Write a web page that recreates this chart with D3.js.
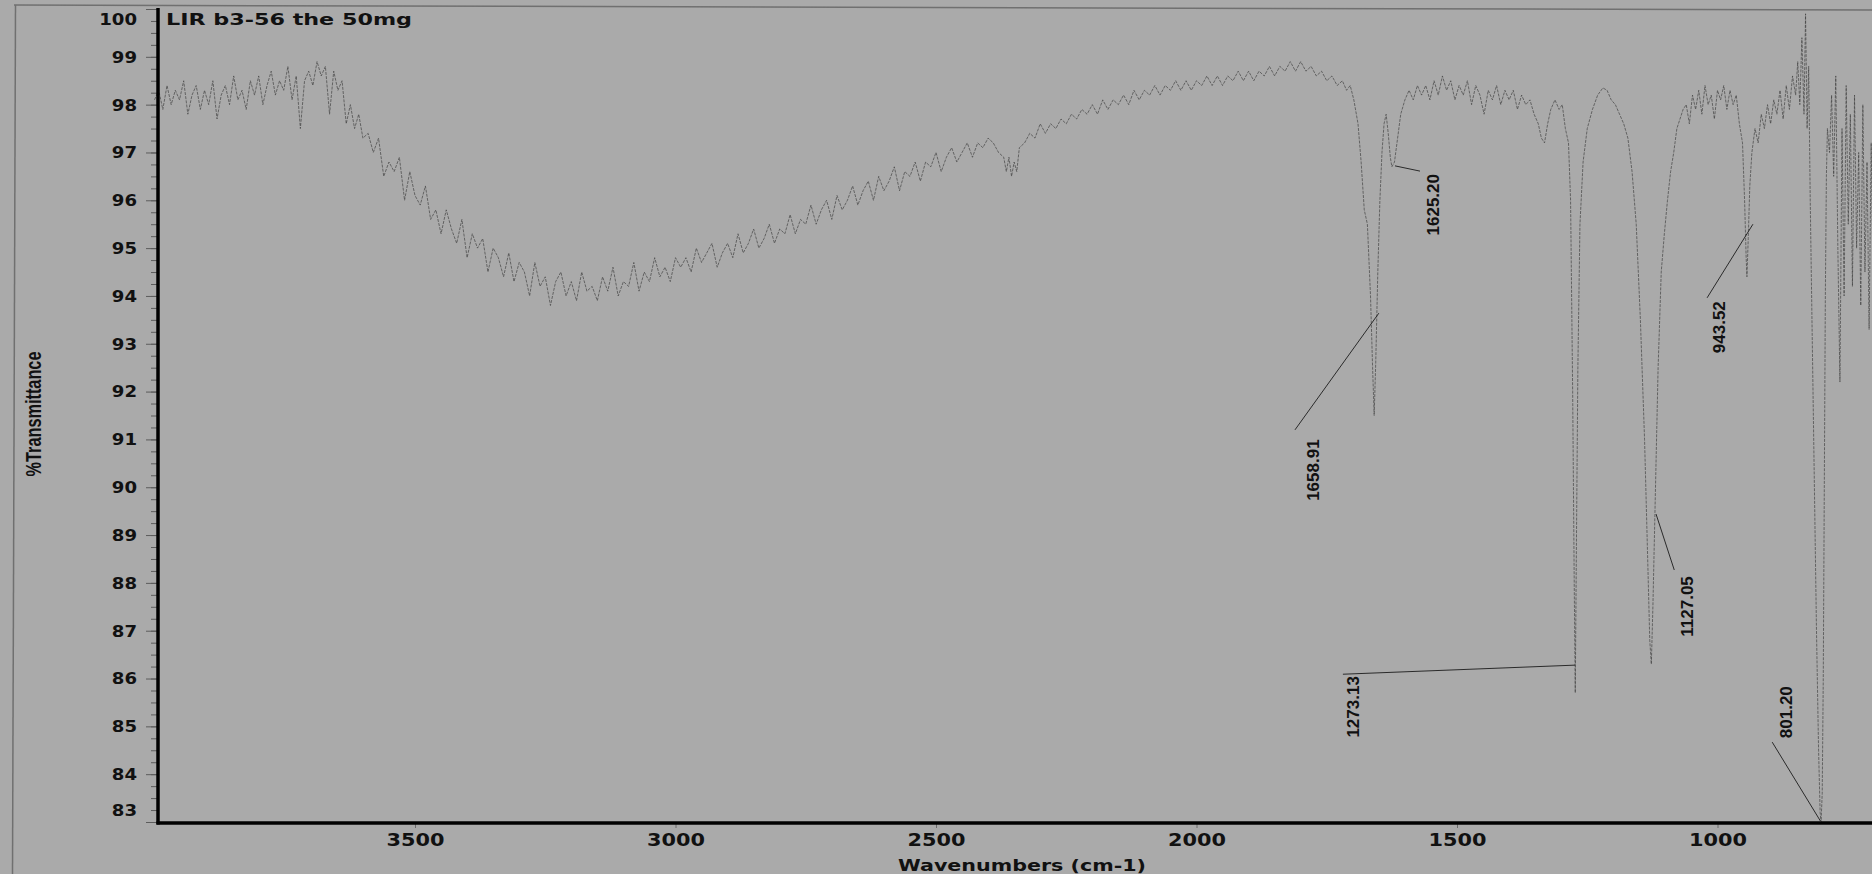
<!DOCTYPE html>
<html lang="en">
<head>
<meta charset="UTF-8">
<title>IR spectrum - LIR b3-56</title>
<style>
  body { margin: 0; background: #aaaaaa; overflow: hidden; }
  svg { display: block; }
</style>
<script src="https://d3js.org/d3.v7.min.js"></script>
</head>
<body>
<script>
// chart texts
const sampleName = "LIR b3-56 the 50mg";
const xTitle = "Wavenumbers (cm-1)";
const yTitle = "%Transmittance";

// tick labels
const xTicks = [3500, 3000, 2500, 2000, 1500, 1000];
const yTicks = [100, 99, 98, 97, 96, 95, 94, 93, 92, 91, 90, 89, 88, 87, 86, 85, 84, 83];

// spectrum: [wavenumber, %T]
const spectrum = [
  [4000,98.1],[3992,98.3],[3984,97.9],[3976,98.4],[3968,98.0],[3960,98.3],[3952,98.1],[3944,98.5],
  [3936,97.8],[3928,98.2],[3920,98.4],[3912,97.9],[3904,98.3],[3896,98.0],[3888,98.5],[3880,97.7],
  [3872,98.2],[3864,98.4],[3856,98.0],[3848,98.6],[3840,98.1],[3832,98.3],[3824,97.9],[3816,98.5],
  [3808,98.2],[3800,98.6],[3792,98.0],[3784,98.4],[3776,98.7],[3768,98.2],[3760,98.5],[3752,98.3],
  [3744,98.8],[3736,98.1],[3728,98.6],[3720,97.5],[3712,98.5],[3704,98.7],[3696,98.4],[3688,98.9],
  [3680,98.6],[3672,98.8],[3664,97.8],[3656,98.7],[3648,98.3],[3640,98.5],[3632,97.6],[3624,98.0],
  [3616,97.5],[3608,97.8],[3600,97.3],
  [3590,97.4],[3580,97.0],[3570,97.3],[3560,96.5],[3550,96.8],[3540,96.6],[3530,96.9],[3520,96.0],
  [3510,96.6],[3500,96.1],[3490,95.9],[3480,96.3],[3470,95.6],[3460,95.8],[3450,95.3],[3440,95.8],
  [3430,95.4],[3420,95.1],[3410,95.6],[3400,94.8],[3390,95.3],[3380,95.0],[3370,95.2],[3360,94.5],
  [3350,95.0],[3340,94.8],[3330,94.4],[3320,94.9],[3310,94.3],[3300,94.7],[3290,94.5],[3280,94.0],
  [3270,94.7],[3260,94.2],[3250,94.4],[3240,93.8],[3230,94.3],[3220,94.5],[3210,94.0],[3200,94.3],
  [3190,93.9],[3180,94.5],[3170,94.1],[3160,94.2],[3150,93.9],[3140,94.4],[3130,94.1],[3120,94.6],
  [3110,94.0],[3100,94.3],[3090,94.2],[3080,94.7],[3070,94.1],[3060,94.5],[3050,94.3],[3040,94.8],
  [3030,94.4],[3020,94.6],[3010,94.3],[3000,94.8],
  [2990,94.6],[2980,94.8],[2970,94.5],[2960,95.0],[2950,94.7],[2940,94.9],[2930,95.1],[2920,94.6],
  [2910,94.9],[2900,95.1],[2890,94.8],[2880,95.3],[2870,94.9],[2860,95.1],[2850,95.4],[2840,95.0],
  [2830,95.2],[2820,95.5],[2810,95.1],[2800,95.4],[2790,95.3],[2780,95.7],[2770,95.3],[2760,95.6],
  [2750,95.5],[2740,95.9],[2730,95.5],[2720,95.8],[2710,96.0],[2700,95.6],[2690,96.1],[2680,95.8],
  [2670,96.0],[2660,96.3],[2650,95.9],[2640,96.2],[2630,96.4],[2620,96.0],[2610,96.5],[2600,96.2],
  [2590,96.4],[2580,96.7],[2570,96.2],[2560,96.6],[2550,96.5],[2540,96.8],[2530,96.4],[2520,96.8],
  [2510,96.7],[2500,97.0],[2490,96.6],[2480,96.9],[2470,97.1],[2460,96.8],[2450,97.0],[2440,97.2],
  [2430,96.9],[2420,97.2],[2410,97.1],[2400,97.3],
  [2390,97.2],[2380,97.0],[2370,96.9],[2365,96.6],[2360,96.9],[2355,96.5],[2350,96.8],[2345,96.6],
  [2340,97.1],[2330,97.2],[2320,97.4],[2310,97.3],[2300,97.6],[2290,97.4],[2280,97.6],[2270,97.5],
  [2260,97.7],[2250,97.6],[2240,97.8],[2230,97.7],[2220,97.9],[2210,97.8],[2200,98.0],[2190,97.8],
  [2180,98.1],[2170,97.9],[2160,98.1],[2150,98.0],[2140,98.2],[2130,98.0],[2120,98.3],[2110,98.1],
  [2100,98.3],[2090,98.2],[2080,98.4],[2070,98.2],[2060,98.4],[2050,98.3],[2040,98.5],[2030,98.3],
  [2020,98.5],[2010,98.3],[2000,98.5],[1990,98.4],[1980,98.6],[1970,98.4],[1960,98.6],[1950,98.4],
  [1940,98.6],[1930,98.5],[1920,98.7],[1910,98.5],[1900,98.7],[1890,98.5],[1880,98.7],[1870,98.6],
  [1860,98.8],[1850,98.6],[1840,98.8],[1830,98.7],[1820,98.9],[1810,98.7],[1800,98.9],[1790,98.7],
  [1780,98.8],[1770,98.6],[1760,98.7],[1750,98.5],[1740,98.6],[1730,98.4],[1720,98.5],[1712,98.3],
  [1705,98.4],[1698,98.1],
  [1690,97.6],[1684,96.8],[1678,95.8],[1672,95.5],[1666,94.0],[1662,92.5],[1659,91.5],[1656,92.6],
  [1652,94.5],[1648,96.0],[1644,97.0],[1640,97.6],[1636,97.8],[1632,97.4],[1628,96.9],[1625,96.7],
  [1620,96.8],[1614,97.3],[1608,97.8],[1600,98.1],[1592,98.3],[1584,98.1],[1576,98.4],[1568,98.2],
  [1560,98.4],[1552,98.1],[1544,98.5],[1536,98.2],[1528,98.6],[1520,98.3],[1512,98.5],[1504,98.1],
  [1496,98.4],[1488,98.2],[1480,98.5],[1472,98.0],[1464,98.4],[1456,98.2],[1448,97.8],[1440,98.3],
  [1432,98.1],[1424,98.4],[1416,98.0],[1408,98.3],[1400,98.1],[1392,98.3],[1384,97.9],[1376,98.2],
  [1368,98.0],[1360,98.1],[1352,97.8],[1344,97.6],[1338,97.3],[1332,97.2],[1326,97.6],[1320,97.9],
  [1312,98.1],[1304,97.9],[1298,98.0],[1292,97.5],[1286,97.2],[1282,96.0],[1278,92.0],[1275,88.0],
  [1273,85.7],[1271,88.5],[1268,92.5],[1264,95.5],[1258,96.8],[1250,97.5],[1240,97.9],[1230,98.2],
  [1220,98.35],[1212,98.3],[1204,98.1],[1196,98.0],[1188,97.8],[1180,97.6],[1172,97.3],[1164,96.6],
  [1156,95.5],[1148,93.5],[1140,91.0],[1134,88.5],[1130,86.8],[1127,86.3],[1124,87.5],[1120,89.5],
  [1114,92.5],[1108,94.5],[1102,95.3],[1096,96.0],[1090,96.6],[1084,97.0],[1078,97.5],[1072,97.7],
  [1066,97.9],[1060,98.0],[1054,97.6],[1048,98.2],[1042,97.9],[1036,98.3],[1030,97.8],[1024,98.4],
  [1018,98.0],[1012,98.2],[1006,97.7],[1000,98.3],[994,98.1],[988,98.4],[982,97.9],[976,98.3],
  [970,98.0],[964,98.2],[958,97.6],[952,97.2],[948,96.0],[945,94.8],[943.5,94.4],[941,95.2],
  [938,96.3],[934,97.0],[928,97.5],[922,97.2],[916,97.8],[910,97.5],[904,98.0],[898,97.6],
  [892,98.1],[886,97.8],[880,98.3],[874,97.7],[868,98.4],[862,97.9],[856,98.6],[850,98.2],
  [846,98.9],[842,98.0],[838,99.4],[834,97.8],[831,99.9],[828,97.5],[825,98.8],[822,96.0],
  [818,93.0],[814,90.0],[810,87.0],[806,84.5],[803,83.2],[801.2,83.0],[799,83.6],[797,86.0],
  [795,90.0],[793,94.0],[791,96.5],[789,97.5],[785,97.0],[781,98.2],[777,96.5],[773,98.6],
  [769,95.0],[765,92.2],[761,97.5],[757,94.0],[753,98.4],[749,95.5],[745,97.8],[741,94.2],
  [737,98.2],[733,95.0],[729,97.0],[725,93.8],[721,98.0],[717,94.5],[713,96.8],[709,93.3],
  [705,97.2],[701,94.0],[697,96.5]
];

// peak annotations: label text, leader tip on the trace, leader start, label top (all in data units)
const peaks = [
  { text: "1658.91", tip: [1650, 93.64], from: [1811, 91.2],  at: [1776, 91.0] },
  { text: "1625.20", tip: [1619, 96.72], from: [1571, 96.61], at: [1546, 96.55] },
  { text: "1273.13", tip: [1273.5, 86.28], from: [1719, 86.09], at: [1700, 86.05] },
  { text: "1127.05", tip: [1118, 89.44], from: [1083, 88.27], at: [1058, 88.14] },
  { text: "943.52",  tip: [932, 95.5],   from: [1020, 93.96], at: [997, 93.89] },
  { text: "801.20",  tip: [801.3, 83.0], from: [895, 84.67],  at: [869, 85.84] }
];

const W = 1872, H = 874;
const axisX = 158, axisY = 823;

const svg = d3.select("body").append("svg")
  .attr("width", W)
  .attr("height", H);

svg.append("rect").attr("width", W).attr("height", H).attr("fill", "#aaaaaa");

// scanned page frame
svg.append("line").attr("x1", 14).attr("y1", 5).attr("x2", W).attr("y2", 10)
  .attr("stroke", "#707070").attr("stroke-width", 1.5);
svg.append("line").attr("x1", 15.5).attr("y1", 5).attr("x2", 12.5).attr("y2", H)
  .attr("stroke", "#707070").attr("stroke-width", 1.5);

const x = d3.scaleLinear().domain([4000, 700]).range([154.5, 1873.8]);
const y = d3.scaleLinear().domain([83, 100]).range([822, 9]);

// minor y ticks every 0.25
svg.append("g")
  .attr("transform", `translate(${axisX},0)`)
  .call(d3.axisLeft(y).tickValues(d3.range(83, 100.01, 0.25)).tickSize(7).tickFormat(""))
  .call(g => g.select(".domain").remove())
  .call(g => g.selectAll("line").attr("stroke", "#5c5c5c"));

// major y ticks + labels
const yAxis = svg.append("g")
  .attr("transform", `translate(${axisX},0)`)
  .call(d3.axisLeft(y).tickValues(yTicks).tickSize(12).tickPadding(9).tickFormat(d3.format("d")));
yAxis.select(".domain").remove();
yAxis.selectAll("line").attr("stroke", "#5c5c5c");
yAxis.selectAll("text")
  .attr("font-family", "DejaVu Sans")
  .attr("font-weight", "bold")
  .attr("font-size", 15)
  .attr("fill", "#111")
  .attr("textLength", d => String(d).length * 12.6)
  .attr("lengthAdjust", "spacingAndGlyphs")
  .attr("dy", d => d === 100 ? "1.0em" : d === 83 ? "-0.45em" : "0.36em");

// x axis ticks + labels
const xAxis = svg.append("g")
  .attr("transform", `translate(0,${axisY})`)
  .call(d3.axisBottom(x).tickValues(xTicks).tickSize(5).tickPadding(6).tickFormat(d3.format("d")));
xAxis.select(".domain").remove();
xAxis.selectAll("line").attr("stroke", "#6a6a6a");
xAxis.selectAll("text")
  .attr("font-family", "DejaVu Sans")
  .attr("font-weight", "bold")
  .attr("font-size", 17)
  .attr("fill", "#111")
  .attr("textLength", 58)
  .attr("lengthAdjust", "spacingAndGlyphs");

// spectrum trace, drawn faint and broken like the scanned print
const line = d3.line().x(d => x(d[0])).y(d => y(d[1]));
svg.append("path")
  .datum(spectrum)
  .attr("d", line)
  .attr("fill", "none")
  .attr("stroke", "#3f3f3f")
  .attr("stroke-opacity", 0.75)
  .attr("stroke-width", 0.9)
  .attr("stroke-dasharray", "3 1.2")
  .attr("stroke-linejoin", "round");

// axis lines
svg.append("line").attr("x1", axisX).attr("y1", 8).attr("x2", axisX).attr("y2", axisY + 1.5)
  .attr("stroke", "#000").attr("stroke-width", 3.5);
svg.append("line").attr("x1", axisX - 1.5).attr("y1", axisY).attr("x2", W).attr("y2", axisY)
  .attr("stroke", "#000").attr("stroke-width", 3.5);

// peak leaders + labels
const ann = svg.append("g").attr("class", "peaks");
ann.selectAll("line")
  .data(peaks)
  .join("line")
  .attr("x1", d => x(d.from[0])).attr("y1", d => y(d.from[1]))
  .attr("x2", d => x(d.tip[0])).attr("y2", d => y(d.tip[1]))
  .attr("stroke", "#2a2a2a")
  .attr("stroke-width", 1);
ann.selectAll("text")
  .data(peaks)
  .join("text")
  .attr("transform", d => `translate(${x(d.at[0])},${y(d.at[1])}) rotate(-90)`)
  .attr("text-anchor", "end")
  .attr("dy", "0.35em")
  .attr("font-family", "Liberation Sans")
  .attr("font-weight", "bold")
  .attr("font-size", 17)
  .attr("fill", "#111")
  .text(d => d.text);

// titles
svg.append("text")
  .attr("x", 166).attr("y", 25)
  .attr("font-family", "DejaVu Sans").attr("font-weight", "bold").attr("font-size", 16)
  .attr("fill", "#111")
  .attr("textLength", 246).attr("lengthAdjust", "spacingAndGlyphs")
  .text(sampleName);

svg.append("text")
  .attr("x", 1022).attr("y", 871)
  .attr("text-anchor", "middle")
  .attr("font-family", "DejaVu Sans").attr("font-weight", "bold").attr("font-size", 16)
  .attr("fill", "#111")
  .attr("textLength", 248).attr("lengthAdjust", "spacingAndGlyphs")
  .text(xTitle);

svg.append("text")
  .attr("transform", "translate(33,414) rotate(-90)")
  .attr("text-anchor", "middle")
  .attr("dy", "0.35em")
  .attr("font-family", "Liberation Sans").attr("font-weight", "bold").attr("font-size", 22)
  .attr("fill", "#111")
  .attr("textLength", 125).attr("lengthAdjust", "spacingAndGlyphs")
  .text(yTitle);
</script>
</body>
</html>
